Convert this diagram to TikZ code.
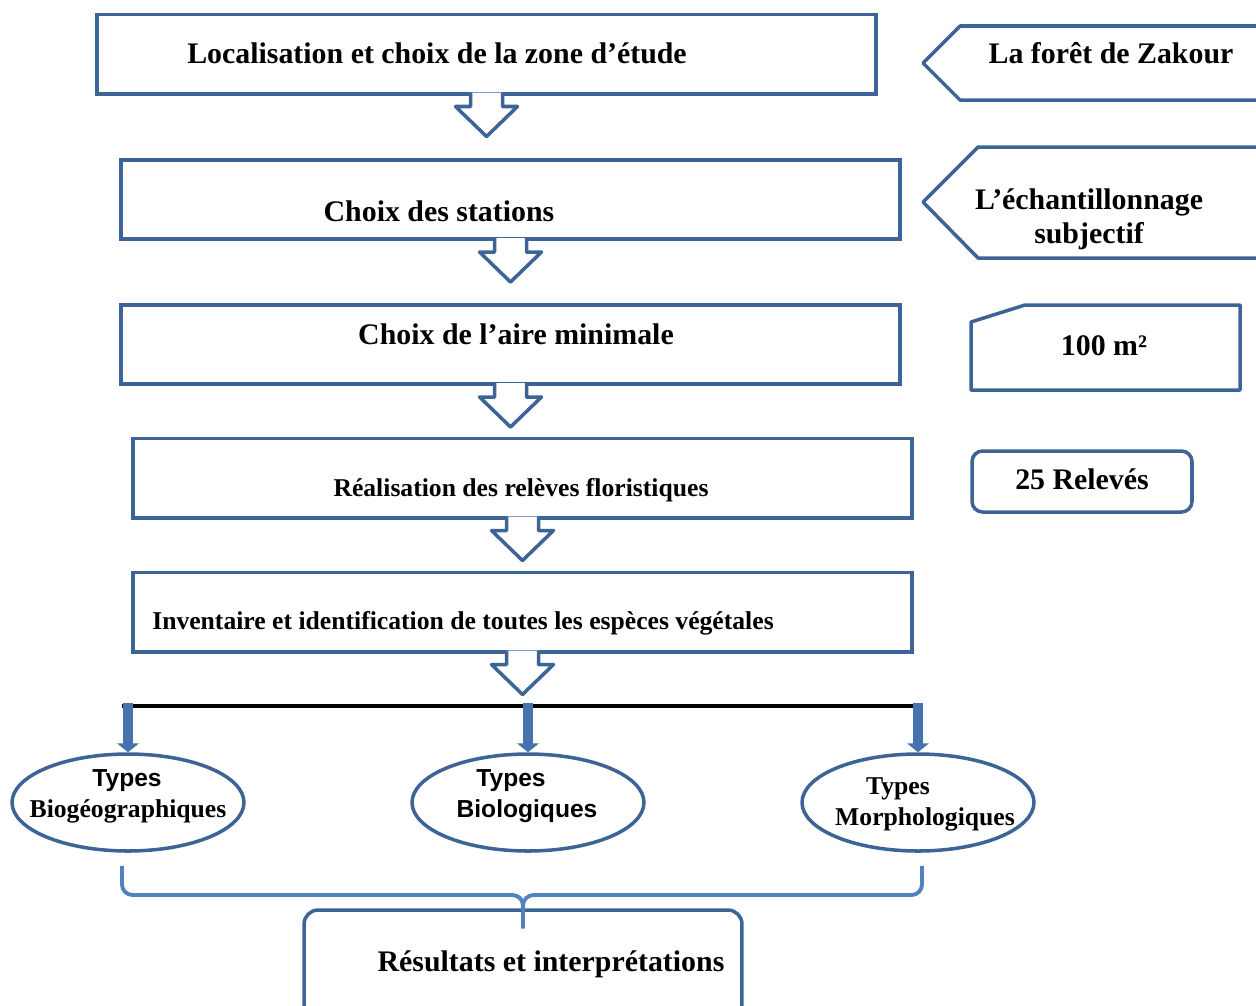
\documentclass[tikz,border=0pt]{standalone}
\usepackage{fontspec}
\setmainfont{Liberation Serif}
\setsansfont{Liberation Sans}
\usetikzlibrary{calc,shapes.geometric,arrows.meta}
\definecolor{boxblue}{RGB}{60,100,150}
\definecolor{barblue}{RGB}{70,115,175}
\definecolor{braceblue}{RGB}{80,130,190}
\tikzset{
  stage/.style={draw=boxblue,line width=2pt,minimum width=15.58cm,minimum height=1.59cm,inner sep=0pt},
  side/.style={draw=boxblue,line width=2pt,line join=round},
  typ/.style={ellipse,draw=boxblue,line width=2pt,minimum width=4.64cm,minimum height=1.94cm,inner sep=0pt},
  big/.style={font=\fontsize{17}{19.3}\selectfont\bfseries},
  small/.style={font=\fontsize{14.6}{16}\selectfont\bfseries},
  sbold/.style={font=\fontsize{14}{16}\selectfont\sffamily\bfseries},
  down/.style={barblue,line width=6pt,-{Triangle[width=12pt,length=5pt]}},
  brace/.style={braceblue,line width=2.2pt,rounded corners=6pt}
}
\begin{document}
\begin{tikzpicture}[x=0.02cm,y=-0.02cm]
\useasboundingbox (0,0) rectangle (1256,1005);
\clip (0,0) rectangle (1256,1005);
% main steps
\node[stage] (b1) at (486.5,54) {};
\node[stage] (b2) at (510.5,199.5) {};
\node[stage] (b3) at (510.5,344.5) {};
\node[stage] (b4) at (522.5,478) {};
\node[stage] (b5) at (522.5,612) {};
\node[big] (t1) at (437,53) {Localisation et choix de la zone d’étude};
\node[big] (t2) at (439,211) {Choix des stations};
\node[big] (t3) at (516,334) {Choix de l’aire minimale};
\node[small] (t4) at (521,490) {Réalisation des relèves floristiques};
\node[small] (t5) at (463,623) {Inventaire et identification de toutes les espèces végétales};
\foreach \b in {b1,b2,b3,b4,b5}
{
    \draw[side,fill=white] ($(\b.south)+(-16,-3)$) -- ++(0,14) -- ++(-15,0) -- ++(31,30)
        -- ++(31,-30) -- ++(-15,0) -- ++(0,-14);
}
% right side
\draw[side] (1270,26) -- (960,26) -- (923,63) -- (960,100) -- (1270,100);
\node[big] (zak) at (1111,53) {La forêt de Zakour};
\draw[side] (1270,147) -- (978,147) -- (923,202) -- (978,258) -- (1270,258);
\node[big,align=center] (ech) at (1089,219) {L’échantillonnage\\subjectif};
\draw[side] (971,322) -- (1025,305) -- (1240,305) -- (1240,390) -- (971,390) -- cycle;
\node[big] (aire) at (1104,346) {100 m²};
\node[draw=boxblue,line width=2pt,rounded corners=6pt,minimum width=4.4cm,minimum height=1.22cm,big] (rel) at (1082,481.5) {\raisebox{3pt}{25 Relevés}};
% types
\coordinate (bl) at (122,706);
\coordinate (br) at (923,706);
\draw[line width=2.8pt] (bl) -- (br);
\node[typ] (e1) at (128,802.5) {};
\node[typ] (e2) at (528,802.5) {};
\node[typ] (e3) at (918,802.5) {};
\foreach \e in {e1,e2,e3}
    \draw[down] ($(\e.north |- bl)+(0,-3)$) -- (\e.north);
\node[sbold] (ty1) at (127,781) {Types};
\node[small] (bio1) at (128,811) {Biogéographiques};
\node[sbold] (ty2) at (511,781) {Types};
\node[sbold] (bio2) at (527,811) {Biologiques};
\node[small] (ty3) at (898,789) {Types};
\node[small] (mor) at (925,819) {Morphologiques};
% results
\node[draw=boxblue,line width=2pt,rounded corners=8pt,minimum width=8.76cm,minimum height=2.2cm] (r) at (523,965) {};
\node[big] (rt) at (551,964) {Résultats et interprétations};
\coordinate (mid) at (523,895);
\draw[brace] ($(e1.south)+(-6,13)$) |- (mid) -- ($(r.north)+(0,20)$);
\draw[brace] ($(e3.south)+(4,13)$) |- (mid) -- ($(r.north)+(0,20)$);
\end{tikzpicture}
\end{document}
